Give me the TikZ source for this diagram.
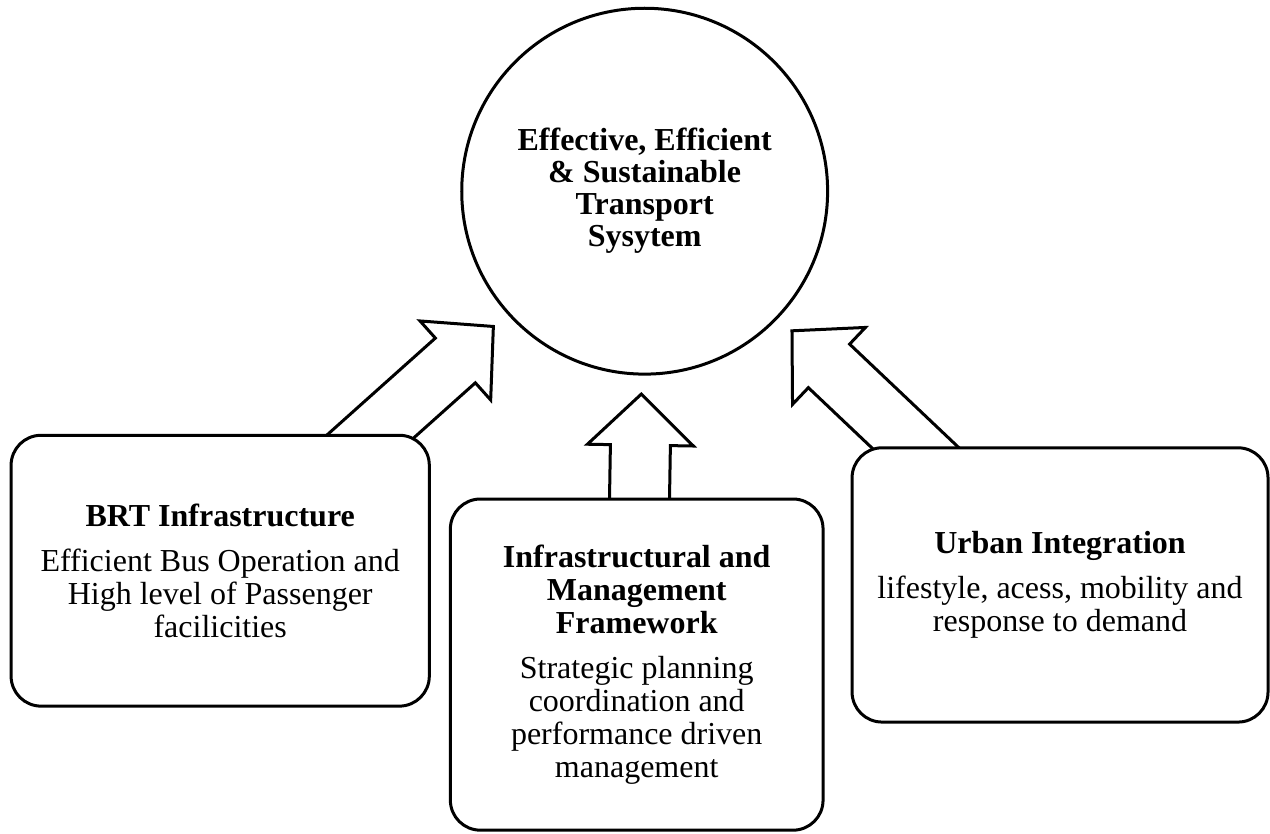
\documentclass[tikz,border=0pt]{standalone}
\usepackage{fontspec}
\setmainfont{Liberation Serif}
\usetikzlibrary{calc,backgrounds}

% fat block arrow from the centre of #1 towards the centre of #2
\newcommand\blockarrow[2]{%
  \coordinate (tip) at ($(#2.center)!101.5pt!(#1.center)$);
  \coordinate (neck) at ($(#2.center)!127pt!(#1.center)$);
  \draw[fat arrow]
    ($(#1.center)!15pt!90:(#2.center)$) -- ($(neck)!15pt!90:(#2.center)$)
    -- ($(neck)!26.5pt!90:(#2.center)$) -- (tip)
    -- ($(neck)!26.5pt!-90:(#2.center)$) -- ($(neck)!15pt!-90:(#2.center)$)
    -- ($(#1.center)!15pt!-90:(#2.center)$) -- cycle;
}

\begin{document}
\begin{tikzpicture}[
  goal/.style={
    shape=circle,
    draw, fill=white,
    line width=1.5pt,
    inner sep=0pt,
    minimum size=6.43cm,
    align=center,
    font=\fontsize{16}{16}\selectfont\bfseries
  },
  box/.style={
    shape=rectangle,
    draw, fill=white,
    line width=1.5pt,
    rounded corners=15pt,
    inner sep=4pt,
    align=center,
    font=\fontsize{16}{16.5}\selectfont
  },
  fat arrow/.style={
    draw, fill=white, line width=1.5pt, line join=miter
  }
]

\useasboundingbox (0,0) rectangle (22.32,-14.64);

\draw (11.33,-3.36) node [goal] (goal)
  {Effective, Efficient\\ \& Sustainable\\ Transport\\ Sysytem};

\draw (3.87,-10.03) node [box, minimum width=7.35cm, minimum height=4.76cm] (brt)
  {\textbf{BRT Infrastructure}\\[6pt]
   Efficient Bus Operation and\\ High level of Passenger\\ facilicities};

\draw (11.19,-11.68) node [box, minimum width=6.55cm, minimum height=5.82cm] (frame)
  {\textbf{Infrastructural and}\\ \textbf{Management}\\ \textbf{Framework}\\[6pt]
   Strategic planning\\ coordination and\\ performance driven\\ management};

\draw (18.63,-10.28) node [box, minimum width=7.31cm, minimum height=4.82cm] (urban)
  {\textbf{Urban Integration}\\[6pt]
   lifestyle, acess, mobility and\\ response to demand};

% arrows sit behind the boxes, so their tails are hidden
\begin{pgfonlayer}{background}
  \blockarrow{brt}{goal}
  \blockarrow{frame}{goal}
  \blockarrow{urban}{goal}
\end{pgfonlayer}
\end{tikzpicture}
\end{document}
